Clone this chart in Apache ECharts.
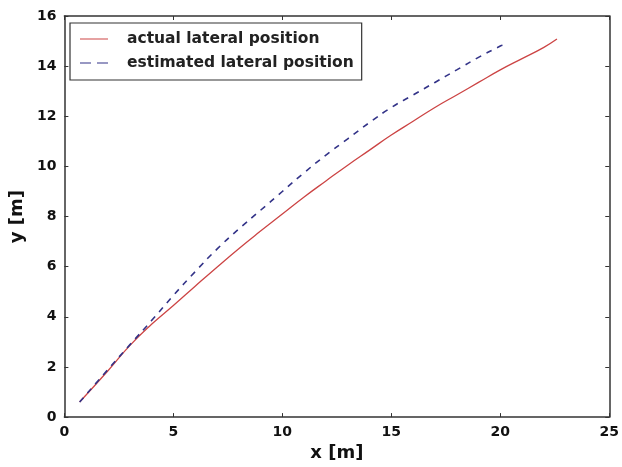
<!DOCTYPE html>
<html>
<head>
  <meta charset="utf-8">
  <title>lateral position</title>
  <script src="https://cdn.jsdelivr.net/npm/echarts@6/dist/echarts.min.js"></script>
  <style>
    html, body { margin: 0; padding: 0; background: #fff; }
    #chart { width: 622px; height: 467px; }
  </style>
</head>
<body>
<div id="chart"></div>
<script>
// values
var actualX = [0.7, 2, 3, 4, 5, 6, 7, 8, 9, 10, 11, 12, 13, 14, 15, 16, 17, 18, 19, 20, 21, 22, 22.6];
var actualY = [0.6, 1.85, 2.85, 3.7, 4.45, 5.22, 5.98, 6.72, 7.42, 8.1, 8.78, 9.42, 10.05, 10.65, 11.25, 11.8, 12.35, 12.85, 13.35, 13.85, 14.3, 14.75, 15.08];
var estX = [0.7, 2, 3, 4, 5, 6, 7, 8, 9, 10, 11, 12, 13, 14, 15, 16, 17, 18, 19, 20, 20.1];
var estY = [0.6, 1.9, 2.88, 3.85, 4.85, 5.8, 6.7, 7.5, 8.25, 9.0, 9.75, 10.45, 11.1, 11.75, 12.35, 12.85, 13.35, 13.85, 14.35, 14.8, 14.83];

function pairs(xs, ys) {
  var out = [];
  for (var i = 0; i < xs.length; i++) out.push([xs[i], ys[i]]);
  return out;
}

var chart = echarts.init(document.getElementById('chart'));
var frame = { show: true, onZero: false, lineStyle: { color: '#333', width: 1.5 } };
var tickIn = { show: true, inside: true, length: 4, lineStyle: { color: '#333' } };
var lbl = { color: '#111', fontSize: 14, fontWeight: 'bold', fontFamily: 'DejaVu Sans' };

chart.setOption({
  animation: false,
  grid: { left: 62, right: 12, top: 16, bottom: 45 },
  legend: {
    left: 70, top: 23, orient: 'vertical',
    itemWidth: 28, itemHeight: 10, itemGap: 8,
    padding: [8, 8, 9, 10],
    borderColor: '#333', borderWidth: 1.2,
    textStyle: { fontSize: 15.5, fontWeight: 'bold', fontFamily: 'DejaVu Sans', color: '#222', padding: [0, 0, 0, 14] },
    data: [
      { name: 'actual lateral position', icon: 'path://M0,5L28,5L28,6L0,6Z' },
      { name: 'estimated lateral position', icon: 'path://M0,5L11,5L11,6L0,6ZM17,5L28,5L28,6L17,6Z' }
    ]
  },
  xAxis: [{
    type: 'value', min: 0, max: 25, interval: 5,
    name: 'x [m]', nameLocation: 'middle', nameGap: 25,
    nameTextStyle: { fontSize: 18, fontWeight: 'bold', fontFamily: 'DejaVu Sans', color: '#111' },
    axisLine: frame, axisTick: tickIn, axisLabel: lbl, splitLine: { show: false }
  }, {
    type: 'value', min: 0, max: 25, interval: 5, position: 'top',
    axisLine: frame, axisTick: tickIn, axisLabel: { show: false }, splitLine: { show: false }
  }],
  yAxis: [{
    type: 'value', min: 0, max: 16, interval: 2,
    name: 'y [m]', nameLocation: 'middle', nameGap: 36,
    nameTextStyle: { fontSize: 18, fontWeight: 'bold', fontFamily: 'DejaVu Sans', color: '#111' },
    axisLine: frame, axisTick: tickIn, axisLabel: lbl, splitLine: { show: false }
  }, {
    type: 'value', min: 0, max: 16, interval: 2, position: 'right',
    axisLine: frame, axisTick: tickIn, axisLabel: { show: false }, splitLine: { show: false }
  }],
  series: [{
    name: 'actual lateral position', type: 'line', smooth: true, showSymbol: false,
    color: '#cc4444',
    lineStyle: { color: '#cc4444', width: 1.3 },
    data: pairs(actualX, actualY)
  }, {
    name: 'estimated lateral position', type: 'line', smooth: true, showSymbol: false,
    color: '#333388',
    lineStyle: { color: '#333388', width: 1.6, type: [6, 6] },
    data: pairs(estX, estY)
  }]
});
</script>
</body>
</html>
